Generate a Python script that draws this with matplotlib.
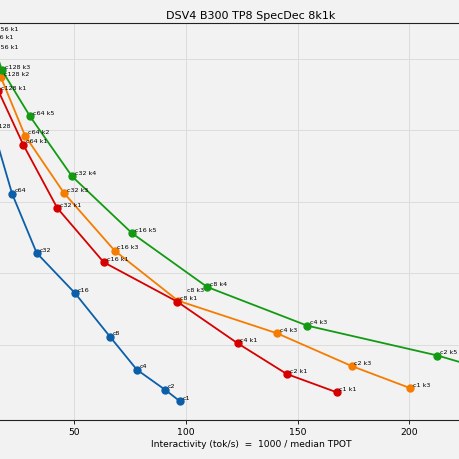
import matplotlib
matplotlib.use("Agg")
import matplotlib.pyplot as plt

title = "DSV4 B300 TP8 SpecDec 8k1k"
xlabel = "Interactivity (tok/s)  =  1000 / median TPOT"

# Series: interactivity (x), throughput (y), labels
blue_x = [3.5, 13.9, 22.3, 33.3, 50.5, 66.1, 78.1, 90.7, 97.4]
blue_y = [4650, 4015, 3116, 2287, 1723, 1116, 655, 375, 213]
blue_lab = ["c256", "c128", "c64", "c32", "c16", "c8", "c4", "c2", "c1"]

red_x = [12.3, 16.2, 27.3, 42.5, 63.3, 96.2, 123.2, 145.2, 167.5]
red_y = [5126, 4552, 3801, 2916, 2157, 1606, 1024, 594, 339]
red_lab = ["c256 k1", "c128 k1", "c64 k1", "c32 k1", "c16 k1", "c8 k1", "c4 k1", "c2 k1", "c1 k1"]

orange_x = [10.5, 17.3, 28.1, 45.5, 68.2, 96.5, 140.8, 174.2, 200.2]
orange_y = [5266, 4744, 3927, 3126, 2319, 1620, 1164, 706, 399]
orange_lab = ["c256 k1", "c128 k2", "c64 k2", "c32 k3", "c16 k3", "c8 k3", "c4 k3", "c2 k3", "c1 k3"]

green_x = [12.3, 17.7, 30.3, 49.1, 76.0, 109.6, 154.4, 212.6, 249.5]
green_y = [5378, 4846, 4199, 3359, 2562, 1811, 1270, 853, 515]
green_lab = ["c256 k1", "c128 k3", "c64 k5", "c32 k4", "c16 k5", "c8 k4", "c4 k3", "c2 k5", "c1 k5"]

series = [
    (blue_x, blue_y, blue_lab, "#0b5fa8"),
    (orange_x, orange_y, orange_lab, "#f57c00"),
    (red_x, red_y, red_lab, "#d60000"),
    (green_x, green_y, green_lab, "#139a13"),
]

# special label offsets (points) to avoid overlap
special_offsets = {("c8 k3", "#f57c00"): (6.5, 8.0)}

bg = "#f2f2f2"
fig = plt.figure(figsize=(4.6, 4.6), dpi=100, facecolor=bg)
ax = fig.add_axes([-0.0821, 0.0854, 1.2557, 0.8624])
ax.set_facecolor(bg)

for xs, ys, labs, col in series:
    ax.plot(xs, ys, "-o", color=col, lw=1.3, ms=5, zorder=3)
    for x, y, lab in zip(xs, ys, labs):
        off = special_offsets.get((lab, col), (2.0, 2.7))
        ax.annotate(lab, (x, y), xytext=off, textcoords="offset points",
                    fontsize=4.6, ha="left", va="center", color="black",
                    zorder=4, annotation_clip=True)

ax.set_xlim(0, 258.4)
ax.set_ylim(-45, 5503)
ax.set_xticks([50, 100, 150, 200])
ax.set_yticks([1000, 2000, 3000, 4000, 5000])
ax.tick_params(axis="y", left=False, labelleft=False)
ax.tick_params(axis="x", labelsize=6.7, length=2.6, width=0.6, pad=2.4)
ax.grid(True, color="#dcdcdc", lw=0.7, zorder=0)
ax.set_axisbelow(True)
for s in ["top", "bottom"]:
    ax.spines[s].set_linewidth(0.8)
    ax.spines[s].set_color("#222222")
ax.set_xlabel(xlabel, fontsize=6.6, labelpad=2.5)
ax.set_title(title, fontsize=8, pad=3.5)

fig.savefig("out.png", dpi=100, facecolor=bg)
